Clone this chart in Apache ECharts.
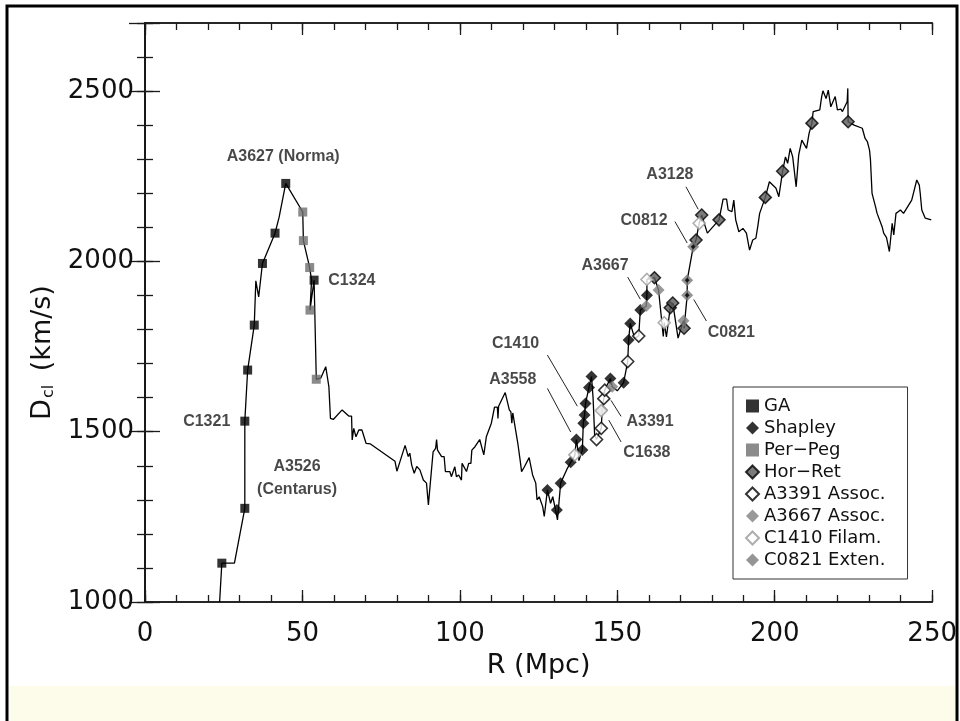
<!DOCTYPE html>
<html>
<head>
<meta charset="utf-8">
<script src="https://cdn.jsdelivr.net/npm/echarts@6/dist/echarts.min.js"></script>
<style>
  html, body { margin: 0; padding: 0; background: #fff; }
  #chart { width: 960px; height: 721px; }
</style>
</head>
<body>
<div id="chart"></div>
<script>
// profile D_cl vs R
var curve = [
  [23.7,1000],[24.4,1114],[28.4,1114],[31.7,1275],[31.7,1531],[32.6,1681],[34.7,1813],[35.2,1943],[36.1,1896],
  [37.3,1994],[41.3,2083],[42.6,2130],[44.7,2229],[50.1,2145],[50.3,2061],[52.3,1982],[52.9,1945],[52.4,1857],
  [53.7,1945],[54.4,1654],[55.8,1657],[57.4,1691],[58.4,1632],[58.9,1539],[59.8,1536],[62.6,1564],[64.7,1546],
  [65.6,1546],[65.8,1476],[66.3,1510],[67.0,1485],[67.9,1505],[68.9,1505],[70.2,1466],[71.6,1464],[79.4,1413],
  [80.0,1384],[81.0,1413],[82.6,1460],[83.6,1427],[84.1,1437],[84.7,1402],[85.5,1378],[86.3,1398],[87.3,1388],
  [88.4,1358],[89.4,1349],[90.0,1285],[90.5,1280],[91.5,1441],[92.3,1451],[92.6,1477],[92.9,1446],[94.2,1427],
  [95.0,1427],[95.4,1383],[96.8,1383],[97.3,1368],[98.4,1397],[98.9,1368],[99.6,1373],[100.5,1358],[100.7,1407],
  [102.1,1383],[102.8,1407],[103.5,1407],[103.8,1446],[104.8,1456],[106.3,1477],[107.6,1432],[108.4,1485],
  [110.0,1525],[111.0,1572],[111.9,1572],[112.1,1539],[112.3,1575],[114.4,1615],[115.7,1564],[116.2,1558],
  [116.5,1525],[116.8,1555],[118.4,1466],[119.2,1412],[119.6,1383],[120.5,1397],[122.0,1424],[123.1,1373],
  [124.1,1349],[124.5,1300],[125.2,1309],[126.3,1280],[126.8,1251],[127.8,1329],[128.8,1290],[129.5,1309],
  [130.4,1270],[130.8,1270],[131.0,1241],[132.0,1349],[134.0,1390],[135.2,1410],[136.5,1430],[137.0,1477],
  [137.6,1440],[137.8,1415],[138.9,1446],[139.2,1525],[139.6,1549],[139.9,1583],[141.0,1630],[141.8,1662],
  [142.3,1600],[142.8,1490],[143.4,1477],[144.9,1510],[145.2,1564],[145.7,1597],[146.0,1622],[147.8,1656],
  [148.4,1632],[150.0,1620],[152.0,1644],[153.3,1706],[153.6,1769],[154.1,1818],[155.5,1775],[156.8,1781],
  [157.3,1857],[159.2,1869],[159.4,1901],[159.4,1947],[161.8,1952],[163.1,1916],[164.6,1780],[164.9,1820],
  [165.6,1778],[166.8,1864],[167.6,1878],[169.3,1775],[171.0,1826],[171.2,1804],[172.2,1901],[172.2,1945],
  [174.1,2043],[175.0,2063],[176.0,2112],[176.8,2136],[178.6,2083],[182.3,2122],[183.6,2183],[184.7,2183],
  [185.2,2151],[186.4,2146],[187.0,2180],[187.6,2122],[188.6,2087],[189.9,2097],[191.0,2083],[192.0,2033],
  [193.0,2063],[194.0,2068],[194.6,2102],[195.2,2141],[197.0,2188],[198.3,2234],[200.4,2215],[201.3,2190],
  [202.5,2265],[203.4,2307],[203.9,2312],[204.1,2288],[204.9,2332],[205.7,2307],[206.8,2219],[207.6,2312],
  [208.6,2356],[210.1,2332],[210.9,2376],[211.8,2406],[212.2,2440],[214.3,2445],[214.9,2484],[215.3,2501],
  [215.8,2500],[216.3,2478],[217.0,2503],[217.8,2454],[218.3,2449],[219.2,2484],[219.9,2445],[221.0,2447],
  [221.5,2440],[223.0,2469],[223.2,2508],[223.3,2410],[225.2,2400],[227.8,2391],[228.7,2361],[229.4,2352],
  [230.1,2327],[230.4,2298],[230.9,2200],[232.0,2161],[232.5,2141],[234.1,2102],[234.6,2083],[235.5,2070],
  [236.4,2029],[237.3,2112],[237.8,2078],[238.5,2141],[239.2,2146],[239.9,2151],[240.9,2141],[243.5,2180],
  [245.1,2239],[245.9,2224],[246.2,2200],[246.7,2151],[247.8,2127],[249.7,2122]
];

// cluster markers
var gaPts = [[24.4,1114],[31.7,1275],[31.7,1531],[32.6,1681],[34.7,1813],[37.3,1994],[41.3,2083],[44.7,2229],[53.7,1945]];
var perPegPts = [[50.1,2145],[50.3,2061],[52.3,1982],[52.4,1857],[54.4,1654]];
var shapleyPts = [[127.8,1329],[130.8,1270],[132.0,1349],[135.2,1410],[137.0,1477],[138.9,1446],[139.2,1525],
  [139.6,1549],[139.9,1583],[141.0,1630],[141.8,1662],[147.8,1656],[152.0,1644],[153.6,1769],[154.1,1818],
  [157.3,1857],[159.4,1901]];
var horRetPts = [[161.8,1952],[166.8,1864],[167.6,1878],[171.2,1804],[175.0,2063],[176.8,2136],[182.3,2122],
  [197.0,2188],[202.5,2265],[211.8,2406],[223.3,2410]];
var a3391Pts = [[143.4,1477],[144.9,1510],[145.7,1597],[146.0,1622],[153.3,1706],[156.8,1781]];
var a3667Pts = [[145.2,1564],[148.4,1632],[159.2,1869],[163.1,1916],[171.0,1826]];
var c1410Pts = [[136.5,1432],[144.9,1562],[159.4,1947],[164.9,1820],[176.0,2112]];
var c0821Pts = [[172.2,1901],[172.2,1945],[174.1,2043]];

// annotations
var labelNames = ['A3627 (Norma)','C1324','C1321','A3526\n(Centarus)','C1410','A3558','A3391','C1638','A3667','C0812','A3128','C0821'];
var labelPos = [[43.9,2307],[65.7,1945],[19.6,1531],[48.3,1364],[117.7,1758],[116.8,1652],[160.4,1529],[159.4,1440],
  [146.1,1987],[158.5,2119],[166.7,2254],[186.2,1790]];
var leaders = [
  [[127.8,1725],[137.3,1575]],
  [[127.8,1627],[135.2,1499]],
  [[148.0,1592],[151.2,1545]],
  [[147.3,1534],[151.2,1470]],
  [[153.3,1954],[157.3,1889]],
  [[168.3,2117],[172.2,2054]],
  [[171.8,2219],[175.7,2153]],
  [[174.3,1888],[178.3,1825]]
];

var xTicks = { min: 0, max: 250, major: 50, minor: 10 };
var yTicks = { min: 1000, max: 2700, major: 500, minor: 100 };

var chart = echarts.init(document.getElementById('chart'));
var FONT = 'DejaVu Sans';
var axisLine = { lineStyle: { color: '#1a1a1a', width: 1.6 } };

function xAx(pos, interval, tickLen, showLabel) {
  return {
    type: 'value', position: pos, min: xTicks.min, max: xTicks.max, interval: interval,
    axisLine: axisLine,
    axisTick: { inside: true, length: tickLen, lineStyle: { color: '#1a1a1a', width: 1.3 } },
    axisLabel: { show: showLabel, margin: 19, fontFamily: FONT, fontSize: 26, color: '#111' },
    splitLine: { show: false }
  };
}
function yAx(pos, interval, tickLen, showLabel) {
  return {
    type: 'value', position: pos, min: yTicks.min, max: yTicks.max, interval: interval,
    axisLine: axisLine,
    axisTick: { inside: true, length: tickLen, lineStyle: { color: '#1a1a1a', width: 1.3 } },
    axisLabel: {
      show: showLabel, margin: 11, fontFamily: FONT, fontSize: 26, color: '#111',
      formatter: function (v) { return v % yTicks.major === 0 ? String(v) : ''; }
    },
    splitLine: { show: false }
  };
}

var xMain = xAx('bottom', xTicks.major, 12, true);
xMain.name = 'R (Mpc)';
xMain.nameLocation = 'middle';
xMain.nameGap = 50;
xMain.nameTextStyle = { fontFamily: FONT, fontSize: 27, color: '#111' };

var yMain = yAx('left', yTicks.major, 15, true);
yMain.name = '{d|D}{s|cl} {d|(km/s)}';
yMain.nameLocation = 'middle';
yMain.nameGap = 44;
yMain.nameTextStyle = {
  fontFamily: FONT, fontSize: 27, color: '#111', padding: [0, 80, 0, 0],
  rich: {
    d: { fontFamily: FONT, fontSize: 27, color: '#111' },
    s: { fontFamily: FONT, fontSize: 16, color: '#111', verticalAlign: 'bottom', padding: [12, 5, 0, 1] }
  }
};

function markerSeries(name, data, symbol, size, style) {
  return {
    name: name, type: 'scatter', xAxisIndex: 0, yAxisIndex: 0, data: data,
    symbol: symbol, symbolSize: size, itemStyle: style, z: 5, silent: true
  };
}

var option = {
  animation: false,
  backgroundColor: '#fff',
  grid: { left: 145, top: 23, width: 792, height: 579, containLabel: false },
  xAxis: [
    xMain,
    xAx('bottom', xTicks.minor, 7, false),
    xAx('top', xTicks.major, 12, false),
    xAx('top', xTicks.minor, 7, false)
  ],
  yAxis: [
    yMain,
    yAx('left', yTicks.minor, 8, false),
    yAx('right', yTicks.major, 16, false),
    yAx('right', yTicks.minor, 8, false)
  ],
  legend: {
    left: 733, top: 387, orient: 'vertical',
    backgroundColor: '#fff', borderColor: '#333', borderWidth: 1, borderRadius: 0,
    padding: [10, 22, 10, 12], itemGap: 4, itemWidth: 13, itemHeight: 13,
    textStyle: { fontFamily: FONT, fontSize: 18, color: '#111' },
    data: [
      { name: 'GA', icon: 'rect' },
      { name: 'Shapley', icon: 'diamond' },
      { name: 'Per\u2212Peg', icon: 'rect' },
      { name: 'Hor\u2212Ret', icon: 'diamond' },
      { name: 'A3391 Assoc.', icon: 'diamond' },
      { name: 'A3667 Assoc.', icon: 'diamond' },
      { name: 'C1410 Filam.', icon: 'diamond' },
      { name: 'C0821 Exten.', icon: 'diamond' }
    ],
    selectedMode: false
  },
  graphic: [
    { type: 'rect', z: -10, shape: { x: 9, y: 686, width: 946, height: 40 }, style: { fill: '#fdfbe9' } },
    { type: 'rect', z: 100, shape: { x: 7, y: 6, width: 950, height: 730 }, style: { fill: null, stroke: '#000', lineWidth: 3 } }
  ],
  series: [
    {
      name: 'profile', type: 'line', data: curve, symbol: 'none', z: 3, silent: true,
      lineStyle: { color: '#000', width: 1.3 }
    },
    markerSeries('GA', gaPts, 'rect', 9, { color: '#000' }),
    markerSeries('Per\u2212Peg', perPegPts, 'rect', 9, { color: '#6e6e6e' }),
    markerSeries('Shapley', shapleyPts, 'diamond', 12, { color: '#000' }),
    markerSeries('Hor\u2212Ret', horRetPts, 'diamond', 12, { color: '#5a5a5a', borderColor: '#000', borderWidth: 1.5 }),
    markerSeries('A3391 Assoc.', a3391Pts, 'diamond', 12, { color: '#fff', borderColor: '#000', borderWidth: 1.6 }),
    markerSeries('A3667 Assoc.', a3667Pts, 'diamond', 12, { color: '#808080' }),
    markerSeries('C1410 Filam.', c1410Pts, 'diamond', 12, { color: '#fff', borderColor: '#9a9a9a', borderWidth: 1.6 }),
    markerSeries('C0821 Exten.', c0821Pts, 'diamond', 12, { color: '#7a7a7a' }),
    markerSeries('C0821 core', c0821Pts, 'diamond', 5, { color: '#000' }),
    {
      name: 'labels', type: 'scatter', symbolSize: 0, silent: true, z: 6,
      data: labelPos.map(function (p, i) { return { value: p, name: labelNames[i] }; }),
      label: {
        show: true, position: 'inside', formatter: '{b}', align: 'center',
        fontFamily: 'Liberation Sans', fontWeight: 'bold', fontSize: 16, lineHeight: 23, color: '#1a1a1a'
      },
      markLine: {
        silent: true, symbol: ['none', 'none'], animation: false,
        label: { show: false },
        lineStyle: { color: '#222', width: 1, type: 'solid' },
        data: leaders.map(function (s) { return [{ coord: s[0] }, { coord: s[1] }]; })
      }
    }
  ]
};

chart.setOption(option);
</script>
</body>
</html>
